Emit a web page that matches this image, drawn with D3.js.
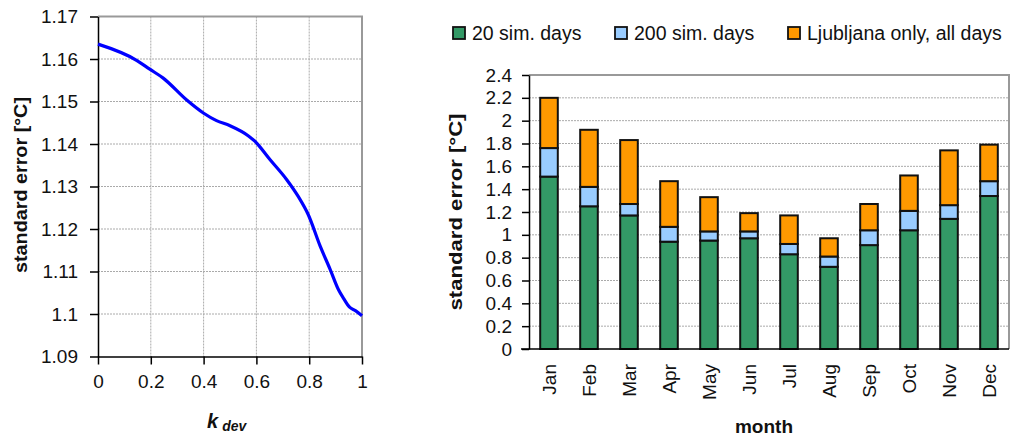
<!DOCTYPE html>
<html>
<head>
<meta charset="utf-8">
<script src="https://cdn.jsdelivr.net/npm/d3@7"></script>
<style>
  body{margin:0;background:#fff;}
  svg{display:block;font-family:"Liberation Sans",Arial,sans-serif;}
  .axis path,.axis line{stroke:#000;stroke-width:1.5;}
  .axis text{font-size:19px;fill:#111;}
  .grid line{stroke:#aaa;stroke-width:1;stroke-dasharray:2,1;}
  .title{font-weight:bold;font-size:19px;fill:#111;}
  .legend-label{font-size:19.5px;fill:#111;}
</style>
</head>
<body>
<div id="chart"></div>
<script>
/* left panel: standard error vs k_dev */
var kDev =   [0, 0.146, 0.196, 0.247, 0.335, 0.399, 0.449, 0.5, 0.57, 0.595, 0.652, 0.715, 0.759, 0.797, 0.842, 0.88, 0.911, 0.93, 0.953, 0.975, 1.0];
var stdErr = [1.1635, 1.1597, 1.1576, 1.1555, 1.1504, 1.1473, 1.1455, 1.1443, 1.1419, 1.1406, 1.1363, 1.1316, 1.1276, 1.1233, 1.1159, 1.1104, 1.1057, 1.1037, 1.1016, 1.1008, 1.0996];
var leftYTicks = [1.09, 1.10, 1.11, 1.12, 1.13, 1.14, 1.15, 1.16, 1.17];
var leftXTicks = [0, 0.2, 0.4, 0.6, 0.8, 1];

/* right panel: monthly stacked standard error */
var months = ["Jan","Feb","Mar","Apr","May","Jun","Jul","Aug","Sep","Oct","Nov","Dec"];
var simDays20 =  [1.51, 1.25, 1.17, 0.94, 0.95, 0.97, 0.83, 0.72, 0.91, 1.04, 1.14, 1.34];
var simDays200 = [0.25, 0.17, 0.10, 0.13, 0.08, 0.06, 0.09, 0.09, 0.13, 0.17, 0.12, 0.13];
var ljubljana =  [0.44, 0.50, 0.56, 0.40, 0.30, 0.16, 0.25, 0.16, 0.23, 0.31, 0.48, 0.32];
var seriesNames = ["20 sim. days", "200 sim. days", "Ljubljana only, all days"];
var seriesColors = ["#339966", "#99ccff", "#ff9900"];
var rightYTicks = [0, 0.2, 0.4, 0.6, 0.8, 1, 1.2, 1.4, 1.6, 1.8, 2, 2.2, 2.4];

var W = 1011, H = 439;
var svg = d3.select("#chart").append("svg").attr("width", W).attr("height", H);
var fmt = function(d){ return String(+d.toFixed(2)); };

/* ---------- left chart ---------- */
var lx = d3.scaleLinear().domain([0, 1]).range([98, 362]);
var ly = d3.scaleLinear().domain([1.09, 1.17]).range([356.5, 16.5]);
var L = svg.append("g");

L.append("g").attr("class","grid").selectAll("line").data(leftXTicks.slice(1, -1)).enter().append("line")
    .attr("x1", lx).attr("x2", lx).attr("y1", ly(1.17)).attr("y2", ly(1.09));
L.append("g").attr("class","grid").selectAll("line").data(leftYTicks.slice(1, -1)).enter().append("line")
    .attr("x1", lx(0)).attr("x2", lx(1)).attr("y1", ly).attr("y2", ly);
// plot border (top/right)
L.append("path").attr("d", "M"+lx(0)+","+ly(1.17)+"H"+lx(1)+"V"+ly(1.09))
    .attr("fill","none").attr("stroke","#999").attr("stroke-width",2);

L.append("g").attr("class","axis").attr("transform","translate("+lx(0)+",0)")
    .call(d3.axisLeft(ly).tickValues(leftYTicks).tickFormat(fmt).tickSize(8).tickSizeOuter(0).tickPadding(12));
L.append("g").attr("class","axis").attr("transform","translate(0,"+ly(1.09)+")")
    .call(d3.axisBottom(lx).tickValues(leftXTicks).tickFormat(fmt).tickSize(8).tickSizeOuter(0).tickPadding(10));

var line = d3.line().x(function(d){return lx(d[0]);}).y(function(d){return ly(d[1]);}).curve(d3.curveMonotoneX);
L.append("path").datum(kDev.map(function(k, i){return [k, stdErr[i]];}))
    .attr("d", line).attr("fill","none").attr("stroke","#0000ff").attr("stroke-width",3.2);

L.append("text").attr("class","title").attr("transform","translate(27,185) rotate(-90)")
    .attr("text-anchor","middle").attr("textLength",176).attr("lengthAdjust","spacingAndGlyphs").text("standard error [°C]");
var kt = L.append("text").attr("class","title").attr("x",207).attr("y",428).style("font-style","italic");
kt.append("tspan").style("font-size","20px").text("k");
kt.append("tspan").attr("dx",4).attr("dy",3).style("font-size","14px").text("dev");

/* ---------- right chart ---------- */
var rx = d3.scaleBand().domain(months).range([529, 1009]).paddingInner(0.56).paddingOuter(0.28);
var ry = d3.scaleLinear().domain([0, 2.4]).range([349, 75]);
var R = svg.append("g");

R.append("g").attr("class","grid").selectAll("line").data(rightYTicks.slice(1, -1)).enter().append("line")
    .attr("x1", 529).attr("x2", 1009).attr("y1", ry).attr("y2", ry);
R.append("path").attr("d", "M529,"+ry(2.4)+"H1009V"+ry(0))
    .attr("fill","none").attr("stroke","#999").attr("stroke-width",2);

var table = months.map(function(m, i){ return {month:m, s0:simDays20[i], s1:simDays200[i], s2:ljubljana[i]}; });
var stack = d3.stack().keys(["s0","s1","s2"])(table);
R.selectAll("g.series").data(stack).enter().append("g").attr("class","series")
    .attr("fill", function(d, i){ return seriesColors[i]; })
  .selectAll("rect").data(function(d){ return d; }).enter().append("rect")
    .attr("x", function(d){ return rx(d.data.month); })
    .attr("width", rx.bandwidth())
    .attr("y", function(d){ return ry(d[1]); })
    .attr("height", function(d){ return ry(d[0]) - ry(d[1]); })
    .attr("stroke","#111").attr("stroke-width",2);

R.append("g").attr("class","axis").attr("transform","translate(529,0)")
    .call(d3.axisLeft(ry).tickValues(rightYTicks).tickFormat(fmt).tickSize(7).tickSizeOuter(0).tickPadding(10));
var xa = R.append("g").attr("class","axis").attr("transform","translate(0,"+ry(0)+")")
    .call(d3.axisBottom(rx).tickSize(0).tickSizeOuter(0));
xa.select(".domain").attr("d","M521,0H1009");
xa.selectAll("text").attr("transform","rotate(-90)").attr("text-anchor","end")
    .attr("x",-15).attr("y",0).attr("dy","0.35em");

R.append("text").attr("class","title").attr("transform","translate(462,212) rotate(-90)")
    .attr("text-anchor","middle").attr("textLength",197).attr("lengthAdjust","spacingAndGlyphs").text("standard error [°C]");
R.append("text").attr("class","title").attr("x",764).attr("y",433).attr("text-anchor","middle").text("month");

/* legend */
var legX = [453, 615, 788];
var leg = R.selectAll("g.leg").data(seriesNames).enter().append("g").attr("class","leg")
    .attr("transform", function(d, i){ return "translate("+legX[i]+",27)"; });
leg.append("rect").attr("width",12).attr("height",12)
    .attr("fill", function(d, i){ return seriesColors[i]; }).attr("stroke","#111").attr("stroke-width",1.8);
leg.append("text").attr("class","legend-label").attr("x",19).attr("y",12.5).text(function(d){ return d; });
</script>
</body>
</html>
